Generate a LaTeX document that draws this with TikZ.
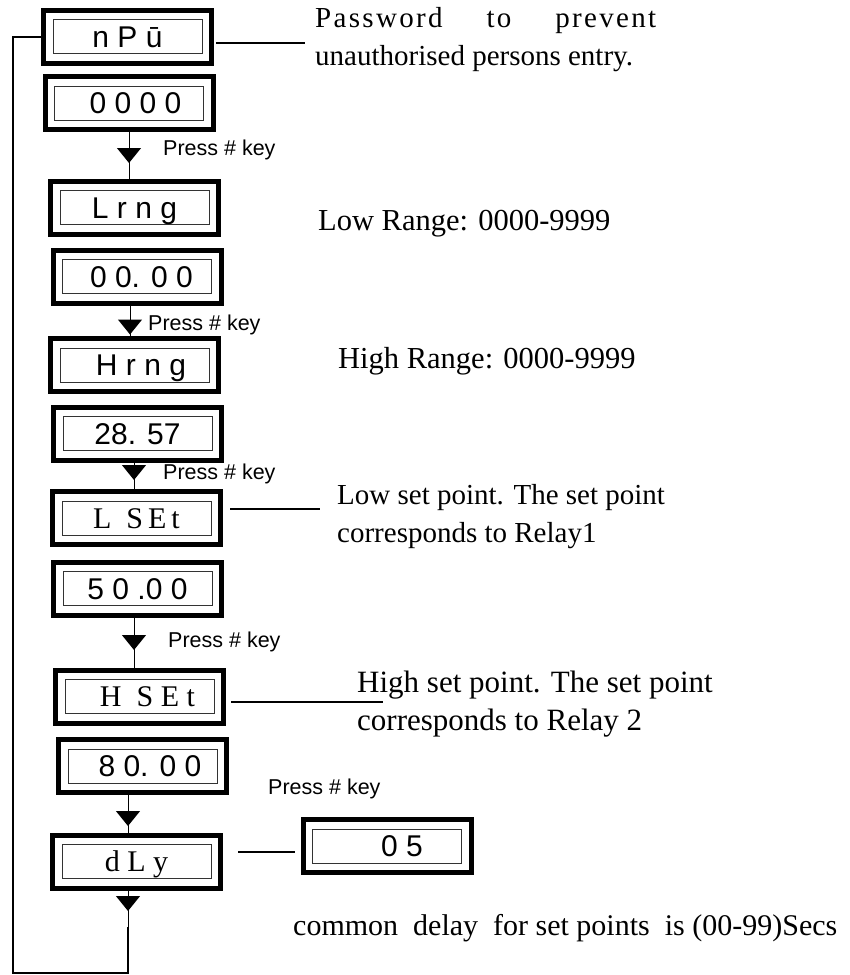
\documentclass[tikz,border=0pt]{standalone}
\usepackage{fontspec}
\setmainfont{Liberation Serif}
\newfontfamily\lcdfont{Liberation Sans}
\usetikzlibrary{fit}
\usetikzlibrary{arrows.meta}
\usetikzlibrary{decorations.markings}
\tikzstyle{lcd} = [rectangle, draw=black!80, line width=1pt, minimum width=149pt, minimum height=34pt, inner sep=0pt, text height=21.5pt, text depth=0pt, font=\lcdfont\fontsize{30}{30}\selectfont]
\tikzstyle{lcdserif} = [lcd, text height=20pt, font=\fontsize{30}{30}\selectfont]
\tikzstyle{lcdframe} = [rectangle, draw=black, line width=5pt, inner sep=9pt]
\tikzstyle{tie} = [line width=2pt]
\tikzstyle{loopline} = [line width=2pt]
\tikzstyle{note} = [anchor=base west, inner sep=0pt, align=left, font=\fontsize{29}{38}\selectfont]
\tikzstyle{keynote} = [anchor=base west, inner sep=0pt, font=\lcdfont\fontsize{21.5}{21.5}\selectfont]
\tikzset{flow/.style={line width=1pt, decoration={markings, mark=at position #1 with {\arrow{Triangle[width=24pt,length=15pt]}}}, postaction={decorate}}}

\begin{document}
\begin{tikzpicture}[x=1pt, y=-1pt]
\useasboundingbox (0,0) rectangle (850,975);

% Displays, one inner window and its thick frame each
% password
\node[lcd] (npw) at (127.5,36.5) {n P ū};
\node[lcdframe, fit=(npw)] (npwf) {};
\node[lcd] (pwv) at (129,103) {\hspace*{13pt}0 0 0 0};
\node[lcdframe, fit=(pwv)] (pwvf) {};
% low range
\node[lcd] (lrng) at (134.5,207.5) {L r n g};
\node[lcdframe, fit=(lrng)] (lrngf) {};
\node[lcd] (lrv) at (137,276.5) {\hspace*{9pt}0 0. 0 0};
\node[lcdframe, fit=(lrv)] (lrvf) {};
% high range
\node[lcd] (hrng) at (134.5,365) {\hspace*{13pt}H r n g};
\node[lcdframe, fit=(hrng)] (hrngf) {};
\node[lcd] (hrv) at (137.5,433.5) {28. 57};
\node[lcdframe, fit=(hrv)] (hrvf) {};
% low set point
\node[lcdserif] (lset) at (136.5,518) {L~~S\,E\,t};
\node[lcdframe, fit=(lset)] (lsetf) {};
\node[lcd] (lsv) at (137.5,588.5) {5 0 .0 0};
\node[lcdframe, fit=(lsv)] (lsvf) {};
% high set point
\node[lcdserif] (hset) at (139.5,696.5) {\hspace*{16pt}H~~S E t};
\node[lcdframe, fit=(hset)] (hsetf) {};
\node[lcd] (hsv) at (142.5,766) {\hspace*{15pt}8 0. 0 0};
\node[lcdframe, fit=(hsv)] (hsvf) {};
% delay
\node[lcdserif] (dly) at (136.5,861.5) {d L y};
\node[lcdframe, fit=(dly)] (dlyf) {};
\node[lcd] (dlv) at (387,846) {\hspace*{30pt}0 5};
\node[lcdframe, fit=(dlv)] (dlvf) {};

% Notes (base = last line)
\node[note] (pwnote) at (315,65) {\makebox[341pt][s]{\addfontfeature{LetterSpace=8}Password to prevent}\\unauthorised persons entry.};
\node[note, font=\fontsize{30.5}{38}\selectfont] (lrnote) at (318,230) {Low Range: 0000-9999};
\node[note, font=\fontsize{30.5}{38}\selectfont] (hrnote) at (338,368) {High Range: 0000-9999};
\node[note] (lsnote) at (337,542) {Low set point. The set point\\corresponds to Relay1};
\node[note, font=\fontsize{31}{38}\selectfont] (hsnote) at (357,730) {High set point. The set point\\corresponds to Relay 2};
\node[note, font=\fontsize{30}{38}\selectfont] (dlnote) at (293,935) {common\ \ delay\ \ for set points\ \ is (00-99)Secs};

% Key labels
\node[keynote] (key1) at (163,155) {Press \# key};
\node[keynote] (key2) at (148,330) {Press \# key};
\node[keynote] (key3) at (163,479) {Press \# key};
\node[keynote] (key4) at (168,647) {Press \# key};
\node[keynote] (key5) at (268,794) {Press \# key};

% Ties to the notes
\coordinate (pwtip) at (305,43);
\coordinate (lstip) at (320,509);
\coordinate (hstip) at (383,702);
\draw[tie, shorten <=2pt] (npwf.east |- pwtip) -- (pwtip);
\draw[tie, shorten <=7pt] (lsetf.east |- lstip) -- (lstip);
\draw[tie, shorten <=5pt] (hsetf.east |- hstip) -- (hstip);
\draw[tie, shorten <=15pt, shorten >=6pt] ([yshift=-6pt]dlvf.west -| dlyf.east) -- ([yshift=-6pt]dlvf.west);

% Flow down the menu
\draw[flow=31pt] (pwvf.south) -- (pwvf.south |- lrngf.north);
\draw[flow=29pt] ([xshift=-7pt]lrvf.south) -- ([xshift=-7pt]lrvf.south |- hrngf.north);
\draw[flow=17.5pt] ([xshift=-3.5pt]hrvf.south) -- ([xshift=-3.5pt]hrvf.south |- lsetf.north);
\draw[flow=32.5pt] ([xshift=-3.5pt]lsvf.south) -- ([xshift=-3.5pt]lsvf.south |- hsetf.north);
\draw[flow=31pt] ([xshift=-14.5pt]hsvf.south) -- ([xshift=-14.5pt]hsvf.south |- dlyf.north);

% Return loop to the start
\coordinate (dlyend) at (128,927);
\coordinate (lpb) at (128,973);
\coordinate (lpl) at (13,973);
\draw[flow=20.5pt] ([xshift=-8.5pt]dlyf.south) -- (dlyend);
\draw[loopline] (dlyend) -- (lpb) -- (lpl) |- (npwf.west);
\end{tikzpicture}
\end{document}
